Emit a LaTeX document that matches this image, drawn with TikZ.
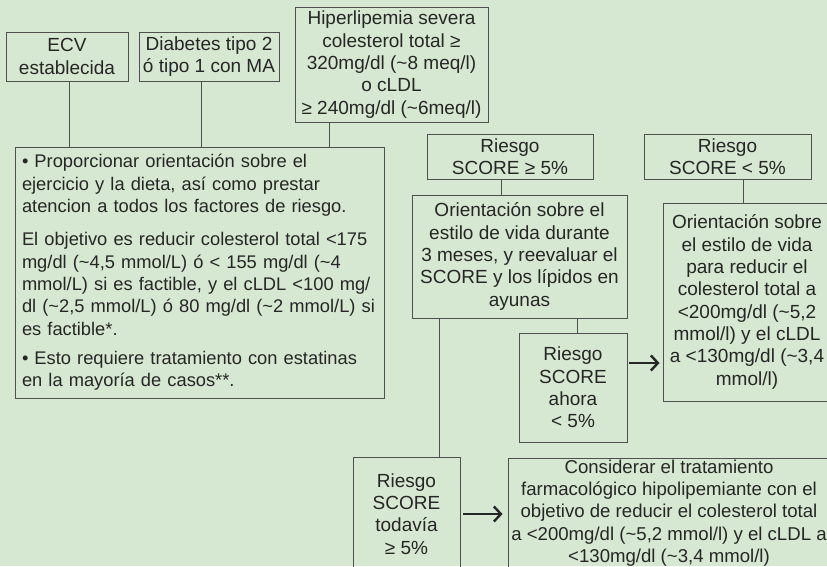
\documentclass[tikz,border=0pt]{standalone}
\usepackage{fontspec}
\setmainfont{Liberation Sans}
\usetikzlibrary{arrows.meta}
\definecolor{bg}{HTML}{D6E8D1}
\definecolor{ink}{HTML}{262626}
\definecolor{edge}{HTML}{505050}
\begin{document}
\begin{tikzpicture}[x=1pt,y=-1pt,
  box/.style={draw=edge, line width=0.9pt, inner sep=0pt, text=ink, align=center,
    font=\fontsize{19}{22.3}\selectfont},
  link/.style={draw=edge, line width=0.9pt},
  go/.style={draw=black!85, line width=2.4pt, -{Straight Barb[length=7pt,width=15pt]}}]
\useasboundingbox (0,0) rectangle (827,566);
\fill[bg] (0,0) rectangle (827,566);
\clip (0,0) rectangle (827,566);
% boxes
\node[box, minimum width=122pt, minimum height=49pt] (ecv) at (67,56.5) {ECV\\establecida};
\node[box, minimum width=140pt, minimum height=49pt] (diab) at (209,56.5) {Diabetes tipo 2\\ó tipo 1 con MA};
\node[box, minimum width=193pt, minimum height=115pt] (hiper) at (391.5,64.5)
  {Hiperlipemia severa\\colesterol total ≥\\320mg/dl (\textasciitilde 8 meq/l)\\o cLDL\hspace*{30pt}\\≥ 240mg/dl (\textasciitilde 6meq/l)};
\node[box, minimum width=369pt, minimum height=251pt, text width=355pt, align=left,
      font=\fontsize{18.3}{22.3}\selectfont] (big) at (199.5,272.5)
  {• Proporcionar orientación sobre el\\
   ejercicio y la dieta, así como prestar\\
   atencion a todos los factores de riesgo.\\[11pt]
   El objetivo es reducir colesterol total <175\\
   mg/dl (\textasciitilde 4,5 mmol/L) ó < 155 mg/dl (\textasciitilde 4\\
   mmol/L) si es factible, y el cLDL <100 mg/\\
   dl (\textasciitilde 2,5 mmol/L) ó 80 mg/dl (\textasciitilde 2 mmol/L) si\\
   es factible*.\\[7pt]
   • Esto requiere tratamiento con estatinas\\
   en la mayoría de casos**.};
\node[box, minimum width=166pt, minimum height=45pt] (r5) at (510,156.5) {Riesgo\\SCORE ≥ 5\%};
\node[box, minimum width=167pt, minimum height=45pt] (rl5) at (727.5,156.5) {Riesgo\\SCORE < 5\%};
\node[box, minimum width=215pt, minimum height=123pt] (orient) at (519.5,256.5)
  {Orientación sobre el\\estilo de vida durante\\3 meses, y reevaluar el\\SCORE y los lípidos en\\ayunas};
\node[box, minimum width=168pt, minimum height=198pt] (right) at (747,302)
  {Orientación sobre\\el estilo de vida\\para reducir el\\colesterol total a\\<200mg/dl (\textasciitilde 5,2\\mmol/l) y el cLDL\\a <130mg/dl (\textasciitilde 3,4\\mmol/l)};
\node[box, minimum width=108pt, minimum height=109pt] (ahora) at (573,387.5) {Riesgo\\SCORE\\ahora\\< 5\%};
\node[box, minimum width=107pt, minimum height=114pt] (todavia) at (406.5,514) {Riesgo\\SCORE\\todavía\\≥ 5\%};
\node[box, minimum width=322pt, minimum height=110pt, font=\fontsize{18.6}{22.3}\selectfont] (consid) at (669,513)
  {Considerar el tratamiento\\farmacológico hipolipemiante con el\\objetivo de reducir el colesterol total\\a <200mg/dl (\textasciitilde 5,2 mmol/l) y el cLDL a\\<130mg/dl (\textasciitilde 3,4 mmol/l)};
% connectors
\draw[link] ([xshift=2pt]ecv.south) -- ([xshift=2pt]ecv.south |- big.north);
\draw[link] ([xshift=-8pt]diab.south) -- ([xshift=-8pt]diab.south |- big.north);
\draw[link] ([xshift=35pt]hiper.south west) -- ([xshift=35pt]hiper.south west |- big.north);
\draw[link] ([xshift=-9pt]r5.south) -- ([xshift=-9pt]r5.south |- orient.north);
\draw[link] ([xshift=15.5pt]rl5.south) -- ([xshift=15.5pt]rl5.south |- right.north);
\draw[link] ([xshift=4pt]ahora.north |- orient.south) -- ([xshift=4pt]ahora.north);
\draw[link] ([xshift=32.5pt]todavia.north |- orient.south) -- ([xshift=32.5pt]todavia.north);
% arrows
\coordinate (a1) at ([xshift=2pt,yshift=24.5pt]ahora.east);
\draw[go] (a1) -- ([xshift=-3pt]a1 -| right.west);
\coordinate (a2) at ([xshift=3pt]todavia.east);
\draw[go] (a2) -- ([xshift=-5pt]a2 -| consid.west);
\end{tikzpicture}
\end{document}
